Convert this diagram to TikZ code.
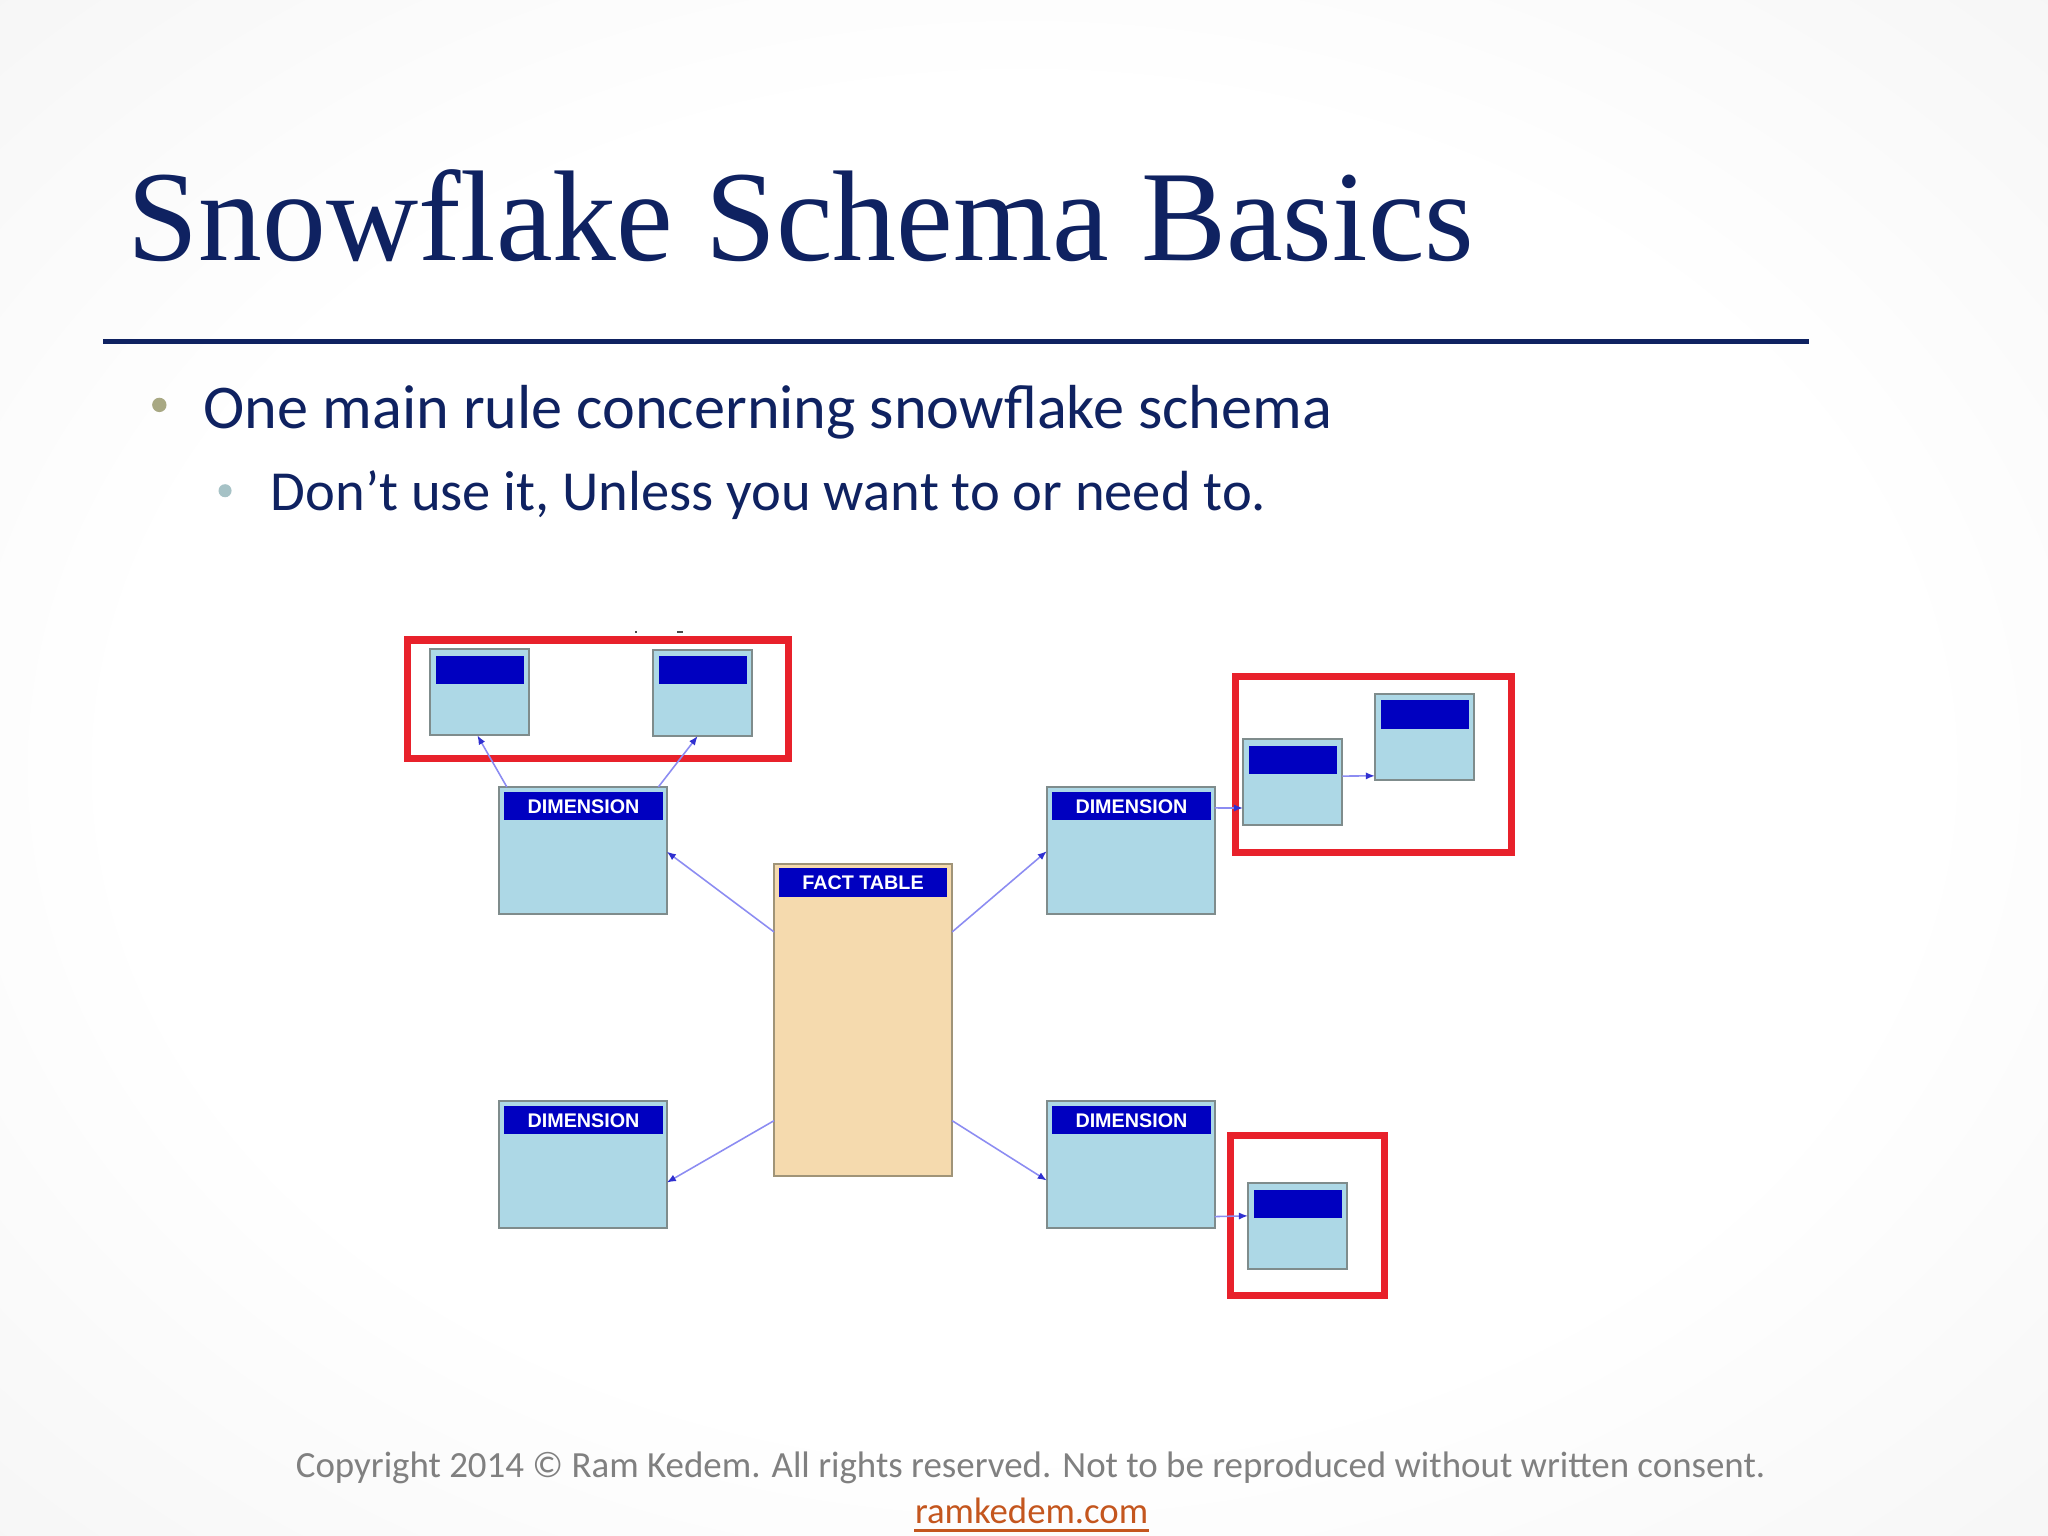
\documentclass[tikz,border=0pt]{standalone}
\usepackage{fontspec}
\setmainfont{Carlito}
\newfontfamily\titlefont{Liberation Serif}
\newfontfamily\arialfont{Liberation Sans}
\usetikzlibrary{arrows.meta,calc}
\definecolor{navy}{HTML}{0F2261}
\definecolor{bulA}{HTML}{A8A883}
\definecolor{bulB}{HTML}{A6C2C6}
\definecolor{footgray}{HTML}{808080}
\definecolor{linkc}{HTML}{C4561E}
\definecolor{tblfill}{HTML}{ADD8E6}
\definecolor{tblborder}{HTML}{7F8C8C}
\definecolor{hdrblue}{HTML}{0000C0}
\definecolor{factfill}{HTML}{F5DAAE}
\definecolor{factborder}{HTML}{A09478}
\definecolor{redc}{HTML}{E8212B}
\definecolor{linkblue}{HTML}{8C8CF2}
\definecolor{headblue}{HTML}{3030D0}
\definecolor{bgA}{HTML}{F6F6F6}
\definecolor{bgB}{HTML}{E9E9E9}
\definecolor{bgC}{HTML}{DFDFDF}
\pgfdeclareradialshading{vignette}{\pgfpoint{0bp}{0bp}}{color(0bp)=(white); color(22bp)=(white); color(36bp)=(bgA); color(50bp)=(bgB); color(71bp)=(bgC)}
\tikzset{
  tbl/.style={draw=tblborder, fill=tblfill, line width=0.15mm, anchor=north west, inner sep=0, outer sep=0, rectangle},
  hdr/.style={fill=hdrblue, anchor=north west, inner sep=0, outer sep=0, rectangle, text=white, font=\arialfont\bfseries\fontsize{4.3}{5}\selectfont},
  redbox/.style={draw=redc, line width=0.55mm, anchor=north west, inner sep=0, outer sep=0, rectangle},
  conn/.style={draw=linkblue, line width=0.12mm, -{Latex[length=0.7mm,width=0.55mm,color=headblue]}},
  txt/.style={inner sep=0, anchor=base west}
}
\newcommand\minitab[3]{%
  \node[tbl, minimum width=7.6mm, minimum height=6.6mm] (#1) at (#2,#3) {};
  \node[hdr, minimum width=6.75mm, minimum height=2.15mm] (#1h) at (#2+4.5,#3+5) {};}
\newcommand\dimtab[3]{%
  \node[tbl, minimum width=12.85mm, minimum height=9.75mm] (#1) at (#2,#3) {};
  \node[hdr, minimum width=12.15mm, minimum height=2.15mm] (#1h) at (#2+4,#3+4) {DIMENSION};}
\begin{document}
\begin{tikzpicture}[x=0.1mm,y=-0.1mm]
\useasboundingbox (0,0) rectangle (1568,1176);
\shade[shading=vignette] (0,0) rectangle (1568,1176);

% title and rule
\node[txt, text=navy] (title) at (97,199.6) {\resizebox{103.1mm}{6.96mm}{\titlefont Snowflake Schema Basics}};
\coordinate (ruleL) at (79,261.4);
\coordinate (ruleR) at (1385,261.4);
\draw[navy, line width=0.41mm] (ruleL) -- (ruleR);

% bullets
\node[circle, fill=bulA, minimum size=1.1mm, inner sep=0] (b1) at (122,310) {};
\node[txt, text=navy] (l1) at (155.2,328) {\resizebox{86.4mm}{!}{One main rule concerning snowflake schema}};
\node[circle, fill=bulB, minimum size=1.0mm, inner sep=0] (b2) at (172.3,375.7) {};
\node[txt, text=navy] (l2) at (206.7,390.5) {\resizebox{76.2mm}{!}{Don’t use it, Unless you want to or need to.}};

% tiny marks above the first group
\coordinate (m1a) at (486.3,484); \coordinate (m1b) at (488,484);
\coordinate (m2a) at (518.5,483.5); \coordinate (m2b) at (523,483.5);
\draw[black!70, line width=0.15mm] (m1a) -- (m1b);
\draw[black!70, line width=0.15mm] (m2a) -- (m2b);

% red groups
\node[redbox, minimum width=29.2mm, minimum height=9.05mm] (g1) at (312,490) {};
\node[redbox, minimum width=21.13mm, minimum height=13.47mm] (g2) at (946,518) {};
\node[redbox, minimum width=11.8mm, minimum height=12.25mm] (g3) at (942,869.4) {};

% small tables
\minitab{tA}{329}{497}
\minitab{tB}{500}{497.5}
\minitab{tC}{951.7}{565.8}
\minitab{tD}{1052.7}{531.3}
\minitab{tE}{955.5}{905.8}

% dimensions
\dimtab{dTL}{382}{602.5}
\dimtab{dBL}{382}{843}
\dimtab{dTR}{801.5}{602.5}
\dimtab{dBR}{801.5}{843}

% fact table
\node[tbl, fill=factfill, draw=factborder, minimum width=13.64mm, minimum height=23.85mm] (fact) at (592.6,661.5) {};
\node[hdr, minimum width=12.85mm, minimum height=2.25mm] (facth) at (596.5,664.5) {FACT TABLE};

% connectors
\draw[conn] ($(dTL.north west)!0.047!(dTL.north east)$) -- ($(tA.south west)!0.48!(tA.south east)$);
\draw[conn] ($(dTL.north west)!0.95!(dTL.north east)$) -- ($(tB.south west)!0.45!(tB.south east)$);
\draw[conn] ($(fact.north west)!0.218!(fact.south west)$) -- ($(dTL.north east)!0.508!(dTL.south east)$);
\draw[conn] ($(fact.north west)!0.824!(fact.south west)$) -- ($(dBL.north east)!0.64!(dBL.south east)$);
\draw[conn] ($(fact.north east)!0.218!(fact.south east)$) -- ($(dTR.north west)!0.504!(dTR.south west)$);
\draw[conn] ($(fact.north east)!0.824!(fact.south east)$) -- ($(dBR.north west)!0.624!(dBR.south west)$);
\draw[conn] ($(dTR.north east)!0.165!(dTR.south east)$) -- ($(tC.north west)!0.80!(tC.south west)$);
\draw[conn] ($(tC.north east)!0.43!(tC.south east)$) -- ($(tD.north west)!0.95!(tD.south west)$);
\draw[conn] ($(dBR.north east)!0.907!(dBR.south east)$) -- ($(tE.north west)!0.38!(tE.south west)$);

% footer
\node[inner sep=0, anchor=base, text=footgray] (copy) at (789,1131.5) {\resizebox{112.5mm}{!}{Copyright 2014 © Ram Kedem. All rights reserved. Not to be reproduced without written consent.}};
\node[inner sep=0, anchor=base, text=linkc] (link) at (789.8,1166.5) {\resizebox{17.85mm}{!}{ramkedem.com}};
\draw[linkc, line width=0.2mm] ($(link.base west)+(0,5.5)$) -- ($(link.base east)+(0,5.5)$);
\end{tikzpicture}
\end{document}
